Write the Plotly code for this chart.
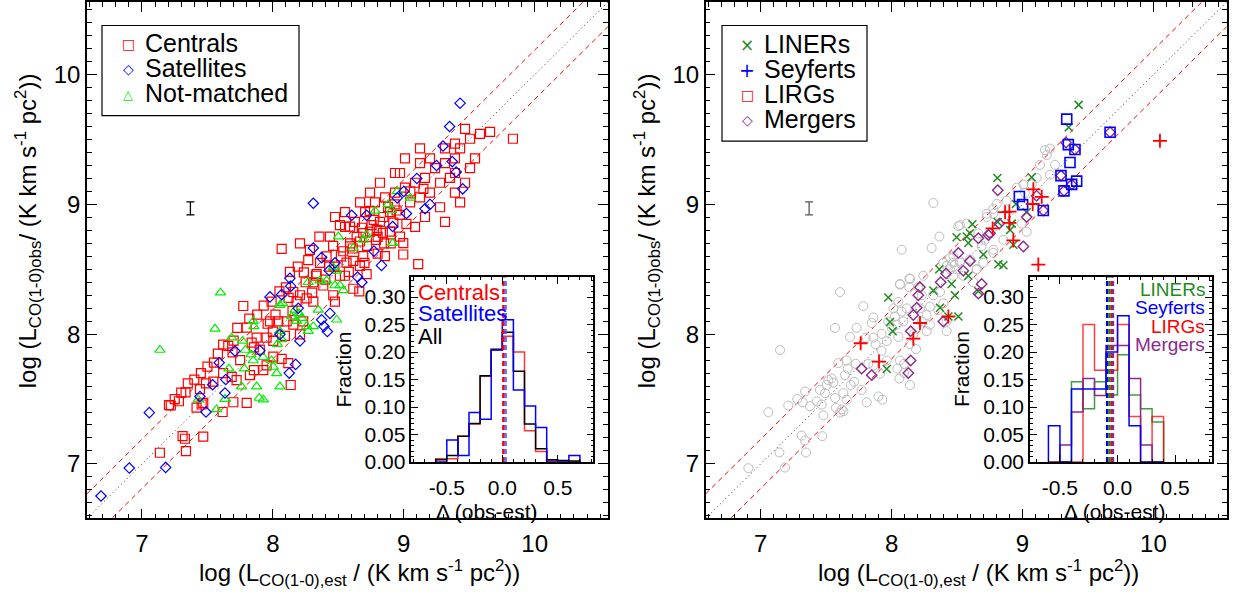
import plotly.graph_objects as go

W, H = 1235, 598
FONT = "Liberation Sans, Arial, sans-serif"

# ---------------- data: left panel ----------------
cen_x = [8.355, 8.067, 7.774, 7.728, 7.137, 7.328, 7.31, 7.468, 7.336, 7.206, 7.282, 7.333, 7.443, 7.489, 7.545,
         7.456, 7.616, 7.698, 7.80, 8.136, 7.685, 7.723, 7.825, 7.855, 7.927, 7.952, 8.003, 8.067, 8.118, 7.855,
         7.838, 7.876, 7.952, 7.978, 8.041, 8.105, 8.156, 8.232, 8.003, 8.092, 8.207, 8.156, 8.207, 8.258, 8.181,
         8.309, 8.237, 8.334, 8.309, 8.385, 8.461, 8.474, 8.512, 8.563, 8.614, 8.69, 8.665, 8.538, 8.512, 8.589,
         8.69, 8.754, 8.844, 8.945, 8.996, 8.856, 8.996, 9.11, 8.793, 8.894, 8.614, 8.716, 8.787, 8.66, 7.468,
         7.417, 7.692, 7.659,
         8.207, 8.283, 8.41, 8.46, 8.59, 8.64, 8.72, 8.80, 8.85, 8.92, 8.97, 9.02, 8.74, 8.88, 8.43, 8.36, 8.27,
         8.19, 8.13, 8.10, 8.05, 7.99, 7.93, 7.88, 7.82, 7.80, 7.70, 7.62, 7.58, 7.55, 7.50, 7.45, 7.40, 7.35,
         7.30, 7.25, 7.22, 7.62, 7.75, 7.90, 8.00, 8.15, 8.30, 8.40, 8.55, 8.70, 8.80, 8.90,
         8.436, 8.551, 8.627, 8.704, 8.78, 8.857, 8.933, 9.009, 9.086, 9.162, 9.239, 9.315, 9.391, 9.43, 9.506,
         9.582, 9.659, 9.834, 8.971, 9.048, 9.124, 9.20, 9.277, 9.353, 8.895, 8.818, 8.742, 8.666, 8.589, 8.971,
         9.086, 9.162, 9.277, 9.391, 9.468, 9.20, 9.124, 9.315, 9.391, 9.468, 9.124, 9.009, 8.933, 8.818, 8.742,
         8.666, 8.551, 8.475, 9.391, 9.506, 9.544, 9.43, 9.315,
         8.52, 8.61, 8.68, 8.77, 8.84, 8.93, 9.05, 9.15, 8.58, 8.47, 8.33, 8.25, 8.12, 8.02, 7.96]
cen_y = [8.752, 8.657, 8.217, 8.049, 7.086, 7.194, 7.214, 7.211, 7.098, 7.453, 7.483, 7.551, 7.576, 7.621, 7.634,
         7.458, 7.40, 7.475, 7.47, 7.608, 7.671, 7.646, 7.684, 7.722, 7.722, 7.759, 7.827, 7.81, 7.777, 7.898,
         7.935, 7.973, 7.973, 8.099, 8.099, 8.099, 8.074, 8.099, 7.948, 7.986, 7.998, 8.325, 8.30, 8.275, 8.25,
         8.25, 8.476, 8.463, 8.40, 8.375, 8.30, 8.25, 8.45, 8.551, 8.564, 8.602, 8.526, 8.639, 8.84, 8.828,
         8.778, 8.84, 8.903, 8.953, 8.702, 8.602, 8.614, 8.539, 8.803, 8.79, 8.35, 8.463, 8.727, 8.33, 7.47,
         7.433, 7.86, 7.91,
         8.70, 8.65, 8.60, 8.68, 8.70, 8.75, 8.68, 8.62, 8.70, 8.86, 8.92, 8.85, 8.95, 8.98, 8.52, 8.55, 8.57,
         8.52, 8.48, 8.36, 8.33, 8.25, 8.22, 8.15, 8.12, 8.05, 7.95, 7.92, 7.85, 7.78, 7.75, 7.70, 7.65, 7.62,
         7.55, 7.50, 7.45, 7.70, 7.80, 7.88, 8.02, 8.18, 8.32, 8.42, 8.45, 8.55, 8.75, 8.70,
         8.752, 8.827, 8.865, 8.941, 9.016, 9.054, 9.091, 9.129, 9.167, 9.204, 9.28, 9.318, 9.355, 9.431, 9.506,
         9.544, 9.559, 9.506, 9.242, 9.016, 9.054, 9.091, 9.167, 9.204, 8.941, 8.865, 8.79, 8.714, 8.677, 8.752,
         8.827, 8.903, 8.978, 9.091, 9.167, 9.355, 9.318, 9.431, 9.468, 9.582, 9.431, 9.355, 9.242, 9.167, 9.091,
         9.016, 8.941, 8.903, 9.242, 9.28, 9.355, 9.016, 8.865,
         8.60, 8.66, 8.82, 8.88, 8.78, 9.00, 9.10, 9.12, 8.48, 8.52, 8.45, 8.40, 8.28, 8.15, 8.08]

sat_x = [8.309, 8.309, 7.056, 6.903, 7.181, 7.978, 8.067, 8.13, 8.136, 7.71, 7.59, 7.64, 7.634, 7.54, 7.443,
         7.489, 7.901, 8.174, 8.125, 8.372, 8.39, 8.416, 8.436, 8.602, 8.716, 8.772, 8.83, 8.68, 8.647, 8.915,
         8.372, 8.475, 8.43, 8.194, 8.207, 8.054, 9.162, 9.02, 6.687,
         9.43, 9.35, 9.30, 9.25, 9.40, 9.10, 9.45, 9.00, 9.20, 8.95, 9.37]
sat_y = [9.009, 8.664, 7.395, 6.968, 6.973, 8.287, 8.305, 8.43, 8.37, 7.87, 7.78, 7.65, 7.546, 7.61, 7.52,
         7.40, 7.873, 7.767, 7.70, 8.111, 8.06, 8.02, 8.16, 8.916, 8.916, 8.64, 8.53, 8.40, 8.44, 8.83,
         8.59, 8.55, 8.49, 8.20, 7.948, 7.998, 8.966, 8.93, 6.753,
         9.78, 9.60, 9.45, 9.30, 9.25, 9.20, 9.12, 9.10, 9.00, 9.05, 9.33]

nm_x = [7.60, 7.558, 7.137, 7.85, 7.855, 7.685, 7.769, 7.79, 7.833, 7.85, 7.927, 7.99, 8.054, 8.074, 8.034,
        8.054, 8.067, 8.003, 8.029, 8.054, 7.876, 7.896, 7.927, 7.761, 7.664, 7.782, 7.43, 7.57, 7.634, 8.143,
        8.169, 8.181, 8.22, 8.258, 8.27, 8.309, 8.347, 8.27, 8.36, 8.41, 8.474, 8.487, 8.512, 8.538, 8.461,
        8.50, 8.614, 8.69, 8.716, 8.915, 8.907, 8.487, 8.20, 8.95, 8.88, 8.78, 9.05]
nm_y = [8.32, 8.041, 7.878, 8.10, 8.06, 7.973, 7.948, 7.878, 7.843, 7.797, 7.822, 7.797, 8.224, 8.237, 7.923,
        8.023, 7.96, 7.747, 7.697, 7.596, 7.596, 7.508, 7.495, 7.596, 7.734, 7.734, 7.495, 7.42, 7.50, 8.136,
        8.187, 8.10, 8.124, 8.061, 8.023, 8.06, 8.187, 8.40, 8.413, 8.413, 8.375, 8.488, 8.375, 8.338, 8.514,
        8.752, 8.664, 8.727, 8.765, 8.702, 8.953, 8.111, 8.16, 9.10, 9.00, 8.95, 9.05]

# ---------------- data: right panel ----------------
all_x = [8.319, 7.148, 8.077, 8.365, 8.306, 8.51, 8.574, 7.606, 7.784, 7.568, 7.733, 7.683, 7.861, 7.848, 7.924,
         7.861, 7.802, 7.878, 8.064, 8.136, 8.136, 8.052, 8.077, 8.115, 8.014, 8.026, 8.039, 8.09, 7.975, 8.001,
         8.052, 7.963, 7.924, 7.963, 8.064, 8.059, 8.14, 8.044, 8.095, 7.912, 7.822, 7.861, 7.726, 7.657, 7.665,
         7.644, 7.593, 7.555, 7.517, 7.542, 7.504, 7.453, 7.491, 7.568, 7.631, 7.657, 7.619, 7.575, 7.688, 7.713,
         7.771, 7.81, 7.899, 7.929, 7.339, 7.28, 7.211, 7.321, 7.377, 7.428, 7.466, 7.479, 7.059, 7.313, 7.339,
         7.346, 7.143, 7.186, 6.906, 7.471, 7.606, 7.632, 8.204, 8.23, 8.217, 8.268, 8.293, 8.23, 8.293, 8.319,
         8.37, 8.357, 8.395, 8.421, 8.421, 8.268, 8.472, 8.421, 8.472, 8.523, 8.446, 8.497, 8.548, 8.599, 8.625,
         8.65, 8.688, 8.714, 8.752, 8.777, 8.663, 8.727, 8.777, 8.166, 8.187, 8.095, 8.14,
         8.523, 8.726, 8.777, 8.803, 8.879, 8.956, 9.007, 9.019, 9.07, 9.108, 9.134, 9.185, 9.21, 9.172, 9.249,
         9.21, 8.854, 8.777, 8.701, 8.65, 8.523, 8.447, 8.243, 8.141, 8.064, 8.395, 8.472, 8.994, 9.032]
all_y = [9.011, 7.877, 8.651, 8.752, 8.664, 8.832, 8.852, 8.324, 8.216, 8.048, 8.048, 7.978, 8.128, 8.086, 8.003,
         7.973, 7.973, 7.922, 8.382, 8.43, 8.362, 8.249, 8.174, 8.199, 8.199, 8.136, 8.073, 8.098, 8.098, 8.048,
         7.978, 7.947, 7.872, 7.797, 7.797, 7.658, 7.608, 7.734, 7.701, 7.696, 7.772, 7.759, 7.772, 7.797, 7.734,
         7.684, 7.777, 7.626, 7.646, 7.658, 7.608, 7.57, 7.545, 7.508, 7.545, 7.495, 7.42, 7.432, 7.608, 7.633,
         7.57, 7.475, 7.52, 7.495, 7.558, 7.50, 7.45, 7.475, 7.445, 7.482, 7.457, 7.374, 7.399, 7.218, 7.181,
         7.088, 7.088, 6.972, 6.967, 7.214, 7.395, 7.407, 8.362, 8.30, 8.199, 8.148, 8.073, 8.098, 8.212, 8.30,
         8.325, 8.186, 8.237, 8.098, 8.023, 8.023, 8.45, 8.526, 8.551, 8.563, 8.588, 8.50, 8.45, 8.576, 8.40,
         8.50, 8.677, 8.727, 8.777, 8.626, 8.777, 8.903, 8.928, 7.998, 7.885, 7.772, 7.922,
         8.84, 8.928, 8.966, 9.003, 9.028, 9.129, 9.154, 9.091, 9.154, 9.204, 9.305, 9.38, 9.43, 9.418, 9.305,
         9.229, 8.727, 8.651, 8.551, 8.50, 8.551, 8.50, 8.45, 8.425, 8.387, 8.551, 8.601, 8.852, 8.789]

liner_x = [7.975, 7.988, 8.008, 7.963, 8.365, 8.319, 8.459, 8.484, 8.51, 8.434, 8.37, 8.663, 8.497, 8.586, 8.617,
           8.574, 8.701, 8.808, 8.816, 8.811, 8.586, 9.429, 9.353, 9.07, 8.95, 9.032, 8.599, 8.905, 8.93, 8.854,
           8.918]
liner_y = [8.282, 8.093, 8.023, 7.731, 8.50, 8.337, 8.387, 8.30, 8.136, 8.136, 8.204, 8.33, 8.747, 8.702, 8.847,
           8.752, 8.614, 9.204, 8.538, 8.865, 8.45, 9.767, 9.594, 9.209, 9.003, 8.94, 8.777, 8.802, 8.689, 8.531,
           8.852]

plus_x = [7.764, 7.904, 8.166, 8.217, 8.434, 8.772, 9.083, 9.147, 9.078, 8.867, 8.90, 8.90, 8.93, 9.121, 10.05]
plus_y = [7.93, 7.789, 7.965, 8.086, 8.136, 8.815, 9.116, 9.058, 9.003, 8.94, 8.945, 8.857, 8.722, 8.536, 9.49]

sq_x = [9.338, 9.35, 9.401, 9.363, 9.294, 9.414, 9.376, 9.317, 8.976, 9.001, 9.159, 9.669]
sq_y = [9.657, 9.461, 9.423, 9.323, 9.222, 9.179, 9.154, 9.104, 9.061, 8.998, 8.953, 9.556]

merg_x = [7.771, 7.848, 8.128, 8.146, 8.146, 8.166, 8.192, 8.204, 8.217, 8.395, 8.375, 8.416, 8.51, 8.599, 8.548,
          8.688, 8.663, 8.739, 8.811, 8.663, 9.333, 9.401, 9.294, 9.376, 9.317, 9.159, 9.669, 9.108, 9.032, 9.007,
          8.823, 8.752]
merg_y = [7.734, 7.684, 7.701, 7.797, 8.023, 8.148, 8.204, 8.30, 8.362, 8.098, 8.40, 8.468, 8.626, 8.563, 8.488,
          8.387, 8.739, 8.764, 9.109, 8.312, 9.476, 9.423, 9.222, 9.154, 9.104, 8.953, 9.556, 9.066, 8.903, 8.676,
          8.852, 8.777]

# typical error bar
err_x, err_y, err_size = 7.37, 8.97, 0.05
# scatter of relation (dex)
SCAT = 0.19

# ---------------- histograms ----------------
BINW = 0.1
l_bins = [-0.6, -0.5, -0.4, -0.3, -0.2, -0.1, 0.0, 0.1, 0.2, 0.3, 0.4, 0.5, 0.6]
h_cen = [0.006, 0.006, 0.047, 0.069, 0.156, 0.204, 0.229, 0.200, 0.057, 0.019, 0.003, 0.002, 0.0]
h_sat = [0.0, 0.040, 0.012, 0.090, 0.078, 0.204, 0.259, 0.131, 0.102, 0.063, 0.0, 0.0, 0.012]
h_all = [0.004, 0.012, 0.047, 0.070, 0.157, 0.205, 0.236, 0.165, 0.069, 0.024, 0.004, 0.003, 0.002]
med_cen, med_sat = 0.01, 0.03

r_bins = [-0.6, -0.5, -0.4, -0.3, -0.2, -0.1, 0.0, 0.1, 0.2, 0.3]
h_liner = [0.0, 0.0, 0.146, 0.097, 0.146, 0.122, 0.195, 0.122, 0.097, 0.073]
h_seyf = [0.066, 0.0, 0.133, 0.133, 0.133, 0.200, 0.266, 0.066, 0.0, 0.0]
h_lirg = [0.0, 0.0, 0.0, 0.250, 0.167, 0.167, 0.250, 0.083, 0.0, 0.083]
h_merg = [0.0, 0.031, 0.091, 0.152, 0.121, 0.212, 0.212, 0.152, 0.031, 0.0]
med_liner, med_seyf, med_lirg, med_merg = -0.07, -0.09, -0.05, -0.04

# ---------------- colours ----------------
RED, BLUE, LGREEN = "#FF0000", "#0000FF", "#00EE00"
DGREEN, PURPLE, GRAY = "#1E8B1E", "#8B2A8B", "#BDBDBD"

# ---------------- layout geometry (px) ----------------
def px_x(p):
    return p / W

def px_y(p):
    return 1 - p / H

XR = [6.58, 10.56]
YR = [6.58, 10.56]
main_dom_y = [px_y(528), px_y(1)]
dom_x1 = [px_x(87), px_x(608)]
dom_x2 = [px_x(705.7), px_x(1226.7)]
ins_dom_y = [px_y(470.5), px_y(282)]
ins_x1 = [px_x(411.3), px_x(593.3)]
ins_x2 = [px_x(1030), px_x(1212)]

fig = go.Figure()

def add_rel_lines(xa, ya):
    xs = XR
    for off, dash, col in [(0, "1px,3px", "#333333"), (SCAT, "5px,4px", RED), (-SCAT, "5px,4px", RED)]:
        fig.add_trace(go.Scatter(x=xs, y=[v + off for v in xs], mode="lines",
                                 line=dict(color=col, width=1, dash=dash),
                                 xaxis=xa, yaxis=ya, showlegend=False, hoverinfo="skip"))

def add_err(xa, ya, col):
    fig.add_trace(go.Scatter(x=[err_x], y=[err_y], mode="markers", marker=dict(size=1, color="rgba(0,0,0,0)"),
                             error_y=dict(type="data", array=[err_size], width=4, thickness=1.3, color=col),
                             xaxis=xa, yaxis=ya, showlegend=False, hoverinfo="skip"))

def pts(x, y, sym, col, size, xa, ya, lw=1.2):
    fig.add_trace(go.Scatter(x=x, y=y, mode="markers",
                             marker=dict(symbol=sym, size=size, color=col, line=dict(color=col, width=lw)),
                             xaxis=xa, yaxis=ya, showlegend=False))

def step(bins, vals, col, xa, ya, width=1.5):
    xs, ys = [bins[0]], [0]
    for lo, v in zip(bins, vals):
        xs += [lo, lo + BINW]
        ys += [v, v]
    xs.append(bins[-1] + BINW)
    ys.append(0)
    fig.add_trace(go.Scatter(x=xs, y=ys, mode="lines", line=dict(color=col, width=width),
                             xaxis=xa, yaxis=ya, showlegend=False, hoverinfo="skip"))

def vdash(v, col, xa, ya):
    fig.add_trace(go.Scatter(x=[v, v], y=[0, 0.336], mode="lines", line=dict(color=col, width=2.5, dash="5px,3px"),
                             xaxis=xa, yaxis=ya, showlegend=False, hoverinfo="skip"))

# left panel
add_rel_lines("x", "y")
pts(cen_x, cen_y, "square-open", RED, 9, "x", "y")
pts(nm_x, nm_y, "triangle-up-open", LGREEN, 9, "x", "y")
pts(sat_x, sat_y, "diamond-open", BLUE, 8, "x", "y")
add_err("x", "y", "black")

# right panel
add_rel_lines("x2", "y2")
pts(all_x, all_y, "circle-open", GRAY, 9, "x2", "y2", lw=1)
pts(liner_x, liner_y, "x-thin-open", DGREEN, 8, "x2", "y2", lw=1.5)
pts(merg_x, merg_y, "diamond-open", PURPLE, 8, "x2", "y2", lw=1.4)
pts(sq_x, sq_y, "square-open", BLUE, 10, "x2", "y2", lw=1.6)
pts(plus_x, plus_y, "cross-thin-open", RED, 10, "x2", "y2", lw=1.8)
add_err("x2", "y2", "#555555")

# inset left
step(l_bins, h_cen, "rgba(255,0,0,0.8)", "x3", "y3")
step(l_bins, h_all, "black", "x3", "y3")
step(l_bins, h_sat, BLUE, "x3", "y3")
vdash(med_cen, RED, "x3", "y3")
vdash(med_sat, "rgba(80,80,255,0.85)", "x3", "y3")

# inset right
step(r_bins, h_liner, "rgba(30,139,30,0.85)", "x4", "y4")
step(r_bins, h_lirg, "rgba(255,0,0,0.75)", "x4", "y4")
step(r_bins, h_merg, PURPLE, "x4", "y4")
step(r_bins, h_seyf, BLUE, "x4", "y4")
vdash(med_seyf, BLUE, "x4", "y4")
vdash(med_liner, DGREEN, "x4", "y4")
vdash(med_lirg, RED, "x4", "y4")
vdash(med_merg, PURPLE, "x4", "y4")

main_ax = dict(range=XR, showgrid=False, zeroline=False, showline=True, linecolor="black", linewidth=1.5,
               mirror="allticks", ticks="inside", ticklen=10, tickwidth=1.2, tickcolor="black",
               tickvals=[7, 8, 9, 10], tickfont=dict(size=24, color="black", family=FONT),
               minor=dict(ticks="inside", dtick=0.1, ticklen=5, tickwidth=1, tickcolor="black"))
ins_x = dict(showgrid=False, zeroline=False, showline=True, linecolor="black", linewidth=1.5,
             mirror="allticks", ticks="inside", ticklen=7, tickwidth=1.2, tickcolor="black",
             tickvals=[-0.5, 0.0, 0.5], ticktext=["-0.5", "0.0", "0.5"], ticklabelstandoff=6,
             tickfont=dict(size=21, color="black", family=FONT),
             minor=dict(ticks="inside", dtick=0.1, ticklen=3, tickwidth=1, tickcolor="black"))
ins_y = dict(range=[0, 0.336], showgrid=False, zeroline=False, showline=True, linecolor="black", linewidth=1.5,
             mirror="allticks", ticks="inside", ticklen=7, tickwidth=1.2, tickcolor="black",
             tickvals=[0, 0.05, 0.10, 0.15, 0.20, 0.25, 0.30],
             ticktext=["0.00", "0.05", "0.10", "0.15", "0.20", "0.25", "0.30"],
             tickfont=dict(size=21, color="black", family=FONT),
             minor=dict(ticks="inside", dtick=0.01, ticklen=3, tickwidth=1, tickcolor="black"))

fig.update_layout(
    width=W, height=H, margin=dict(l=0, r=0, t=0, b=0),
    paper_bgcolor="white", plot_bgcolor="white",
    font=dict(family=FONT, color="black"),
    xaxis=dict(domain=dom_x1, anchor="y", ticklabelstandoff=3, **main_ax),
    yaxis=dict(domain=main_dom_y, anchor="x", **{**main_ax, "range": YR}),
    xaxis2=dict(domain=dom_x2, anchor="y2", ticklabelstandoff=3, **main_ax),
    yaxis2=dict(domain=main_dom_y, anchor="x2", **{**main_ax, "range": YR}),
    xaxis3=dict(domain=ins_x1, anchor="y3", range=[-0.82, 0.82], **ins_x),
    yaxis3=dict(domain=ins_dom_y, anchor="x3", **ins_y),
    xaxis4=dict(domain=ins_x2, anchor="y4", range=[-0.76, 0.82], **ins_x),
    yaxis4=dict(domain=ins_dom_y, anchor="x4", **ins_y),
    showlegend=False,
)

shapes = []
# white backgrounds for the insets
for xr, yr, rng in [("x3", "y3", [-0.82, 0.82]), ("x4", "y4", [-0.76, 0.82])]:
    shapes.append(dict(type="rect", xref=xr, yref=yr, x0=rng[0], x1=rng[1], y0=0, y1=0.336,
                       fillcolor="white", line=dict(width=0), layer="below"))
# legend boxes
for x0, x1, y0, y1 in [(102, 299, 25, 117), (722, 867, 25, 143)]:
    shapes.append(dict(type="rect", xref="paper", yref="paper", x0=px_x(x0), x1=px_x(x1),
                       y0=px_y(y1), y1=px_y(y0), fillcolor="white", line=dict(color="black", width=1.2),
                       layer="above"))

ytitle = "log (L<sub>CO(1-0)obs</sub>/ (K km s<sup>-1</sup> pc<sup>2</sup>))"
xtitle = "log (L<sub>CO(1-0),est</sub> / (K km s<sup>-1</sup> pc<sup>2</sup>))"
ann = []
for xc, yc in [(28, 235), (647, 235)]:
    ann.append(dict(text=ytitle, x=px_x(xc), y=px_y(yc), xref="paper", yref="paper", textangle=-90,
                    showarrow=False, font=dict(size=24, family=FONT), xanchor="center", yanchor="middle"))
for xc in [359.5, 978]:
    ann.append(dict(text=xtitle, x=px_x(xc), y=px_y(584), xref="paper", yref="paper",
                    showarrow=False, font=dict(size=24, family=FONT), xanchor="center", yanchor="middle"))
for xc in [343, 961.5]:
    ann.append(dict(text="Fraction", x=px_x(xc), y=px_y(376), xref="paper", yref="paper", textangle=-90,
                    showarrow=False, font=dict(size=21, family=FONT), xanchor="center", yanchor="middle"))
for xc in [486.7, 1115]:
    ann.append(dict(text="\u0394 (obs-est)", x=px_x(xc), y=px_y(521), xref="paper", yref="paper",
                    showarrow=False, font=dict(size=21, family=FONT), xanchor="center", yanchor="middle"))
for txt, col, yc in [("Centrals", RED, 297), ("Satellites", BLUE, 319), ("All", "black", 342)]:
    ann.append(dict(text=txt, x=px_x(416), y=px_y(yc), xref="paper", yref="paper", showarrow=False,
                    font=dict(size=22, family=FONT, color=col), xanchor="left", yanchor="middle"))
for txt, col, yc in [("LINERs", DGREEN, 294), ("Seyferts", BLUE, 313), ("LIRGs", RED, 332), ("Mergers", PURPLE, 351)]:
    ann.append(dict(text=txt, x=px_x(1207), y=px_y(yc), xref="paper", yref="paper", showarrow=False,
                    font=dict(size=19, family=FONT, color=col), xanchor="right", yanchor="middle"))

# legends (key glyph + label)
GF = "DejaVu Sans"
left_leg = [("Centrals", "\u25A1", RED, 14), ("Satellites", "\u25C7", BLUE, 14), ("Not-matched", "\u25B3", LGREEN, 13)]
for i, (name, glyph, col, gs) in enumerate(left_leg):
    yc = 43 + i * 25.5
    ann.append(dict(text=glyph, x=px_x(128), y=px_y(yc + 1), xref="paper", yref="paper", showarrow=False,
                    font=dict(size=gs, family=GF, color=col), xanchor="center", yanchor="middle"))
    ann.append(dict(text=name, x=px_x(143), y=px_y(yc), xref="paper", yref="paper", showarrow=False,
                    font=dict(size=25, family=FONT, color="black"), xanchor="left", yanchor="middle"))
right_leg = [("LINERs", "\u00D7", DGREEN, 17), ("Seyferts", "+", BLUE, 19), ("LIRGs", "\u25A1", RED, 14),
             ("Mergers", "\u25C7", PURPLE, 14)]
for i, (name, glyph, col, gs) in enumerate(right_leg):
    yc = 44 + i * 25.5
    ann.append(dict(text=glyph, x=px_x(747), y=px_y(yc + 1), xref="paper", yref="paper", showarrow=False,
                    font=dict(size=gs, family=GF, color=col), xanchor="center", yanchor="middle"))
    ann.append(dict(text=name, x=px_x(762), y=px_y(yc), xref="paper", yref="paper", showarrow=False,
                    font=dict(size=25, family=FONT, color="black"), xanchor="left", yanchor="middle"))

fig.update_layout(annotations=ann, shapes=shapes)

fig.write_html("out.html")
